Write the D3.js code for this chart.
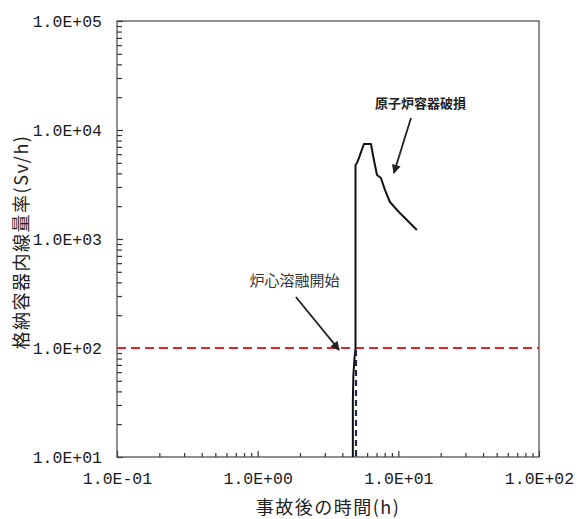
<!DOCTYPE html>
<html>
<head>
<meta charset="utf-8">
<script src="https://cdn.jsdelivr.net/npm/d3@7"></script>
<style>
  html, body { margin: 0; padding: 0; background: #fff; }
  svg { display: block; }
</style>
</head>
<body>
<svg id="chart" width="579" height="519"></svg>
<script>
// ---- data ----
const timeH = [4.75, 4.75, 4.79, 4.87, 4.96, 4.96, 5.08, 5.25, 5.69, 6.39, 6.60, 7.05, 7.52, 8.03, 8.71, 10.26, 13.55];
const doseRate = [10, 33, 56, 78, 100, 4775, 4980, 5540, 7440, 7440, 5900, 3870, 3630, 2820, 2185, 1730, 1210];
const thresholdDose = [100];
const meltStartTime = [5.0];
const xTickValues = [0.1, 1, 10, 100];
const xTickLabels = ["1.0E-01", "1.0E+00", "1.0E+01", "1.0E+02"];
const yTickValues = [10, 100, 1000, 10000, 100000];
const yTickLabels = ["1.0E+01", "1.0E+02", "1.0E+03", "1.0E+04", "1.0E+05"];
const annoLabels = ["原子炉容器破損", "炉心溶融開始"];
const annoTextX = [6.82, 1.83];
const annoTextY = [17700, 421];
const arrowFromX = [12.3, 1.87];
const arrowFromY = [12900, 294];
const arrowToX = [9.3, 3.79];
const arrowToY = [4030, 96];
const xTitle = "事故後の時間(h)";
const yTitle = "格納容器内線量率(Sv/h)";

// ---- layout ----
const svg = d3.select("#chart");
const L = 117, R = 539, T = 21, B = 457;
const x = d3.scaleLog().domain([0.1, 100]).range([L, R]);
const y = d3.scaleLog().domain([10, 100000]).range([B, T]);

const minorX = [];
for (let d = -1; d < 2; d++) for (let k = 2; k <= 9; k++) minorX.push(k * Math.pow(10, d));
const minorY = [];
for (let d = 1; d < 5; d++) for (let k = 2; k <= 9; k++) minorY.push(k * Math.pow(10, d));

svg.append("rect").attr("width", 579).attr("height", 519).attr("fill", "#fff");

// minor ticks
const gxm = svg.append("g").attr("transform", `translate(0,${B})`)
  .call(d3.axisBottom(x).tickValues(minorX).tickSize(-4).tickFormat(""));
const gym = svg.append("g").attr("transform", `translate(${L},0)`)
  .call(d3.axisLeft(y).tickValues(minorY).tickSize(-5).tickFormat(""));
// major ticks with labels
const gx = svg.append("g").attr("transform", `translate(0,${B})`)
  .call(d3.axisBottom(x).tickValues(xTickValues).tickSize(-6).tickPadding(22)
    .tickFormat((d, i) => xTickLabels[i]));
const gy = svg.append("g").attr("transform", `translate(${L},0)`)
  .call(d3.axisLeft(y).tickValues(yTickValues).tickSize(-6).tickPadding(15)
    .tickFormat((d, i) => yTickLabels[i]));
[gxm, gym, gx, gy].forEach(g => {
  g.select(".domain").remove();
  g.selectAll(".tick line").attr("stroke", "#333").attr("stroke-width", 1.2);
});
[gx, gy].forEach(g => g.selectAll(".tick text")
  .attr("fill", "#1a1a1a")
  .style("font-family", "'Liberation Mono', monospace")
  .style("font-size", "16.5px"));
gx.selectAll(".tick text").attr("dy", "0.3em");

// frame
svg.append("rect").attr("x", L).attr("y", T).attr("width", R - L).attr("height", B - T)
  .attr("fill", "none").attr("stroke", "#444").attr("stroke-width", 1.2);

// threshold line (red dashed)
svg.selectAll(".thr").data(thresholdDose).enter().append("line")
  .attr("x1", L).attr("x2", R)
  .attr("y1", d => y(d)).attr("y2", d => y(d))
  .attr("stroke", "#e0262b").attr("stroke-width", 2).attr("stroke-dasharray", "9,5");

// curve
const line = d3.line().x((d, i) => x(timeH[i])).y(d => y(d));
svg.append("path").datum(doseRate).attr("d", line)
  .attr("fill", "none").attr("stroke", "#111").attr("stroke-width", 2)
  .attr("stroke-linejoin", "round");

// melt start vertical dashed
svg.selectAll(".melt").data(meltStartTime).enter().append("line")
  .attr("x1", d => x(d)).attr("x2", d => x(d))
  .attr("y1", y(thresholdDose[0]) + 2).attr("y2", B)
  .attr("stroke", "#1b2a4a").attr("stroke-width", 2.2).attr("stroke-dasharray", "6,4");

// arrows
svg.append("defs").append("marker")
  .attr("id", "ah").attr("viewBox", "0 0 10 10").attr("refX", 9).attr("refY", 5)
  .attr("markerWidth", 11).attr("markerHeight", 9).attr("markerUnits", "userSpaceOnUse")
  .attr("orient", "auto")
  .append("path").attr("d", "M0,0 L10,5 L0,10 Z").attr("fill", "#222");
annoLabels.forEach((t, i) => {
  svg.append("line")
    .attr("x1", x(arrowFromX[i])).attr("y1", y(arrowFromY[i]))
    .attr("x2", x(arrowToX[i])).attr("y2", y(arrowToY[i]))
    .attr("stroke", "#222").attr("stroke-width", 1.8).attr("marker-end", "url(#ah)");
  svg.append("text")
    .attr("x", x(annoTextX[i])).attr("y", y(annoTextY[i]))
    .attr("text-anchor", i === 0 ? "start" : "middle")
    .attr("dominant-baseline", "central")
    .attr("fill", i === 0 ? "#222" : "#333")
    .style("font-family", "'Noto Sans CJK JP', sans-serif")
    .style("font-weight", i === 0 ? "bold" : "normal")
    .style("font-size", i === 0 ? "13px" : "15px")
    .text(t);
});

// axis titles
svg.append("text")
  .attr("x", (L + R) / 2).attr("y", 506)
  .attr("text-anchor", "middle").attr("dominant-baseline", "central")
  .attr("fill", "#222")
  .style("font-family", "'Noto Sans CJK JP', sans-serif").style("font-size", "18px")
  .style("letter-spacing", "1.5px")
  .text(xTitle);
svg.append("text")
  .attr("transform", "translate(20,242) rotate(-90)")
  .attr("text-anchor", "middle").attr("dominant-baseline", "central")
  .attr("fill", "#222")
  .style("font-family", "'Noto Sans CJK JP', sans-serif").style("font-size", "18px")
  .style("letter-spacing", "1.5px")
  .text(yTitle);
</script>
</body>
</html>
